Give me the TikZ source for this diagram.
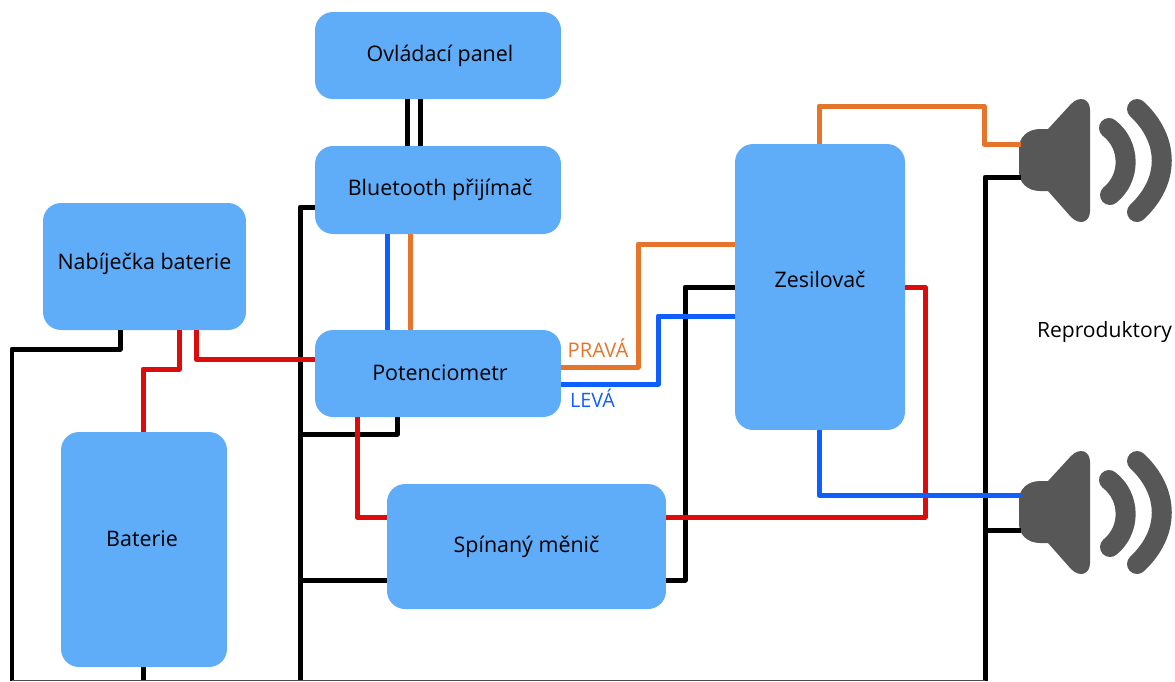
\documentclass[tikz,border=0pt]{standalone}
\usepackage{fontspec}
\setmainfont{Open Sans}
\usepackage{xcolor}
\usetikzlibrary{calc}
\definecolor{boxblue}{HTML}{5FACF9}
\definecolor{wireblue}{HTML}{0F5FFF}
\definecolor{wireorange}{HTML}{E5752A}
\definecolor{wirered}{HTML}{DD0C0C}
\definecolor{spkgray}{HTML}{575757}
\tikzset{
  blok/.style={fill=boxblue,rounded corners=0.36cm,inner sep=0pt,font=\fontsize{12.2}{14}\selectfont},
  wire/.style={line width=0.1cm,line join=round},
  blackwire/.style={wire,black},
  redwire/.style={wire,wirered},
  orangewire/.style={wire,wireorange},
  bluewire/.style={wire,wireblue},
}
\begin{document}
\begin{tikzpicture}[x=0.02cm,y=-0.02cm]
  \useasboundingbox (0,0) rectangle (1175,681);
  \clip (0,0) rectangle (1175,681);
  % boxes
  \node[blok,minimum width=4.92cm,minimum height=1.74cm] (panel) at (438,55.5) {\raisebox{0.05cm}{\hspace*{0.08cm}Ovládací panel}};
  \node[blok,minimum width=4.92cm,minimum height=1.76cm] (bt) at (438,190) {\raisebox{0.04cm}{\hspace*{0.08cm}Bluetooth přijímač}};
  \node[blok,minimum width=4.06cm,minimum height=2.54cm] (charger) at (144.5,266.5) {\raisebox{0.2cm}{Nabíječka baterie}};
  \node[blok,minimum width=4.92cm,minimum height=1.74cm] (pot) at (438,373.5) {\raisebox{0.03cm}{\hspace*{0.08cm}Potenciometr}};
  \node[blok,minimum width=3.32cm,minimum height=4.70cm] (bat) at (144,549.5) {\raisebox{0.42cm}{Baterie\hspace*{0.08cm}}};
  \node[blok,minimum width=5.58cm,minimum height=2.50cm] (conv) at (526.5,546.5) {Spínaný měnič};
  \node[blok,minimum width=3.40cm,minimum height=5.72cm] (amp) at (820,287) {\raisebox{0.32cm}{Zesilovač}};
  % speakers
  \foreach \n/\y in {top/0,bot/352} {
    \begin{scope}[shift={(0,\y)}]
      \fill[spkgray] (1019,148) .. controls (1019,137) and (1028,129) .. (1040,129) -- (1048,129) -- (1071,104) .. controls (1080,95) and (1090,99) .. (1090,110) -- (1090,211) .. controls (1090,222) and (1080,226) .. (1071,217) -- (1048,191) -- (1040,191) .. controls (1028,191) and (1019,183) .. (1019,172) -- cycle;
      \draw[spkgray,line width=0.4cm,line cap=round] (1109,128) .. controls (1131,145) and (1131,178) .. (1110,195);
      \draw[spkgray,line width=0.4cm,line cap=round] (1137,109) .. controls (1170,140) and (1170,181) .. (1137,212);
      \coordinate (spk\n) at (1021,160);
    \end{scope}
  }
  \node[font=\fontsize{12}{14}\selectfont] (repro) at (1104.5,332) {Reproduktory};
  \coordinate (railA) at (12,681);
  \coordinate (railB) at (300,681);
  \coordinate (railC) at (985,681);
  % black wires
  \draw[blackwire] ($(panel.south)+(-31,0)$) -- ($(bt.north)+(-31,0)$);
  \draw[blackwire] ($(panel.south)+(-18,0)$) -- ($(bt.north)+(-18,0)$);
  \draw[blackwire] ($(bt.west)+(0,17)$) -| (railB);
  \draw[blackwire] (charger.south -| 120,0) |- (12,349) -- (railA);
  \draw[blackwire] (bat.south -| 143,0) -- (143,681);
  \draw[blackwire] ($(pot.south)+(-41,0)$) |- (300,434);
  \draw[blackwire] (conv.west |- 0,580) -- (300,580);
  \draw[blackwire] (conv.east |- 0,580) -- (685,580) |- (amp.west |- 0,287);
  \draw[blackwire] ($(spktop)+(0,17)$) -| (railC);
  \draw[blackwire] ($(spkbot)+(0,18)$) -- (985,530);
  \draw[black!70,line width=0.02cm] (12,680.5) -- (985,680.5);
  % red wires
  \draw[redwire] (charger.south -| 179,0) |- (143,369) -- (bat.north -| 143,0);
  \draw[redwire] (charger.south -| 196,0) |- (pot.west |- 0,359);
  \draw[redwire] (pot.south -| 357,0) |- (conv.west |- 0,517);
  \draw[redwire] (conv.east |- 0,517) -| (925,287) -- (amp.east |- 0,287);
  % orange wires
  \draw[orangewire] (bt.south -| 410,0) -- (pot.north -| 410,0);
  \draw[orangewire] (pot.east |- 0,367) -| (638,244) -- (amp.west |- 0,244);
  \draw[orangewire] (amp.north -| 819,0) |- (984,106) |- ($(spktop)+(0,-16)$);
  \node[text=wireorange,font=\fontsize{11.5}{13}\selectfont] (prava) at (598,348.5) {PRAVÁ};
  % blue wires
  \draw[bluewire] (bt.south -| 387,0) -- (pot.north -| 387,0);
  \draw[bluewire] (pot.east |- 0,384) -| (658,316) -- (amp.west |- 0,316);
  \draw[bluewire] (amp.south -| 819,0) |- ($(spkbot)+(0,-17)$);
  \node[text=wireblue,font=\fontsize{11.3}{13}\selectfont] (leva) at (592.5,398.5) {LEVÁ};
\end{tikzpicture}
\end{document}
